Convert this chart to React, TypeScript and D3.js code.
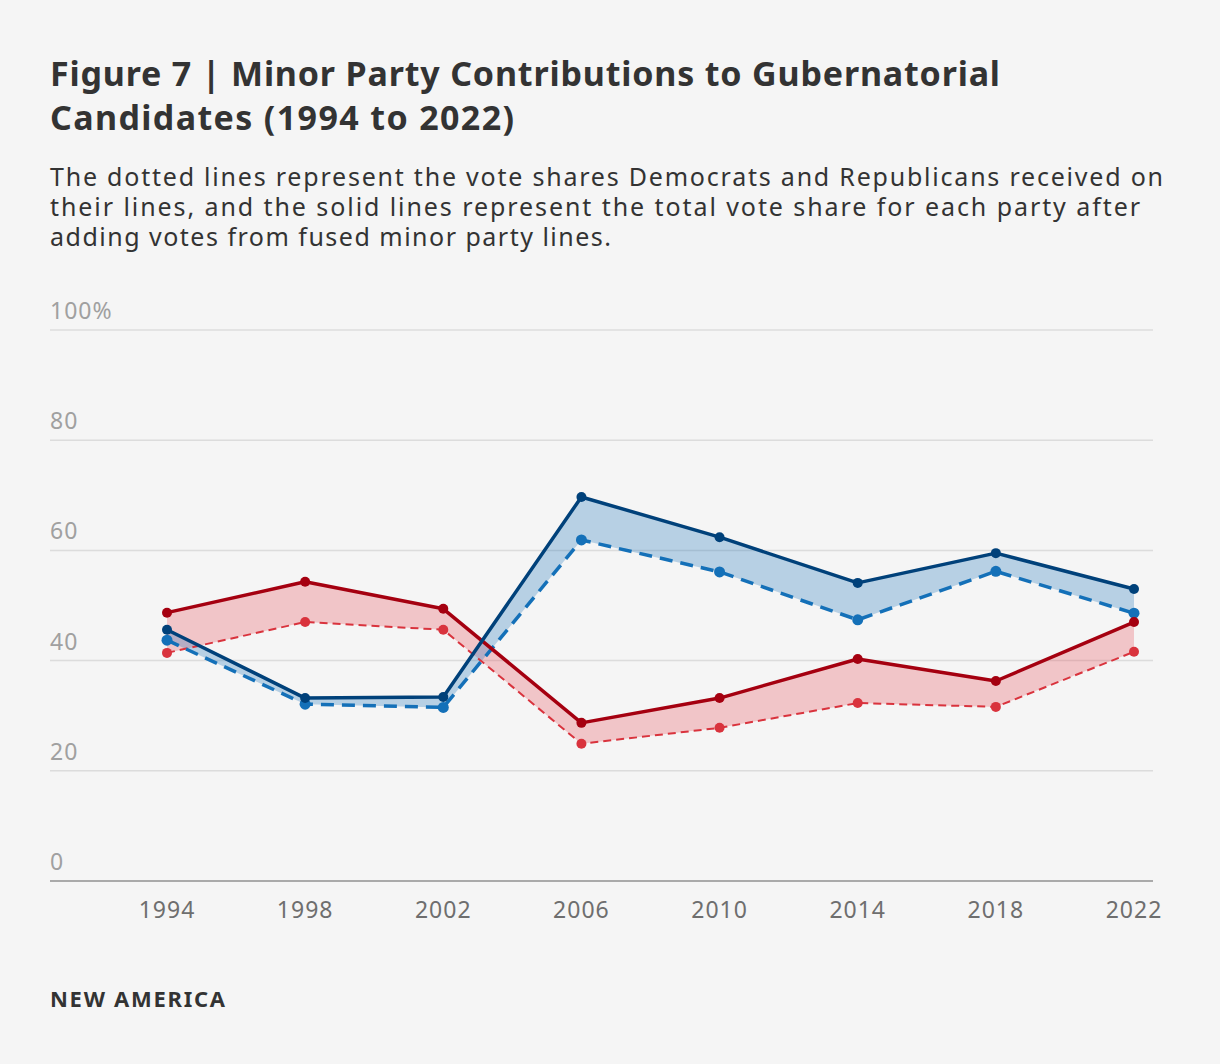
import React from "react";
import * as d3 from "d3";

// election years on the x axis
const years = [1994, 1998, 2002, 2006, 2010, 2014, 2018, 2022];

// vote share on own party line (dashed) and total with fused minor lines (solid)
const demOwn = [43.7, 32.1, 31.5, 61.9, 56.1, 47.4, 56.2, 48.6];
const demTotal = [45.6, 33.2, 33.4, 69.7, 62.4, 54.1, 59.5, 53.0];
const repOwn = [41.4, 47.0, 45.6, 24.9, 27.8, 32.3, 31.6, 41.6];
const repTotal = [48.7, 54.3, 49.4, 28.7, 33.2, 40.3, 36.3, 47.0];

const yTicks = [0, 20, 40, 60, 80, 100];

const W = 1220;
const H = 1064;
const left = 50;
const right = 1153;

const x = d3.scaleLinear().domain([1994, 2022]).range([167, 1134]);
const y = d3.scaleLinear().domain([0, 100]).range([881, 330]);

const font = "'Noto Sans', 'DejaVu Sans', sans-serif";

type Pt = { yr: number; lo: number; hi: number };

const pts = (lo: number[], hi: number[]): Pt[] =>
  years.map((yr, i) => ({ yr, lo: lo[i], hi: hi[i] }));

const band = d3
  .area<Pt>()
  .x((d) => x(d.yr))
  .y0((d) => y(d.lo))
  .y1((d) => y(d.hi));

const line = d3
  .line<number>()
  .x((_, i) => x(years[i]))
  .y((d) => y(d));

const Series = ({
  vals,
  color,
  width,
  dash,
  r,
}: {
  vals: number[];
  color: string;
  width: number;
  dash?: string;
  r: number;
}) => (
  <g>
    <path d={line(vals) || ""} fill="none" stroke={color} strokeWidth={width} strokeDasharray={dash} strokeLinejoin="round" />
    {vals.map((v, i) => (
      <circle key={i} cx={x(years[i])} cy={y(v)} r={r} fill={color} />
    ))}
  </g>
);

export default function App() {
  return (
    <svg width={W} height={H} style={{ position: "absolute", left: 0, top: 0, background: "#f5f5f5" }}>
      <rect width={W} height={H} fill="#f5f5f5" />
      <g fontFamily={font} fill="#333">
        <text x={50} y={86} fontSize={34} fontWeight={700} textLength={950} lengthAdjust="spacing">
          Figure 7 | Minor Party Contributions to Gubernatorial
        </text>
        <text x={50} y={130} fontSize={34} fontWeight={700} textLength={464} lengthAdjust="spacing">
          Candidates (1994 to 2022)
        </text>
        <g fontSize={25} fill="#333">
          <text x={50} y={186} textLength={1113} lengthAdjust="spacing">
            The dotted lines represent the vote shares Democrats and Republicans received on
          </text>
          <text x={50} y={216} textLength={1090} lengthAdjust="spacing">
            their lines, and the solid lines represent the total vote share for each party after
          </text>
          <text x={50} y={246} textLength={561} lengthAdjust="spacing">
            adding votes from fused minor party lines.
          </text>
        </g>
      </g>

      {yTicks.map((t) => (
        <g key={t}>
          <line x1={left} x2={right} y1={y(t)} y2={y(t)} stroke={t === 0 ? "#aaa" : "#dcdcdc"} strokeWidth={t === 0 ? 2 : 1.5} />
          <text x={left} y={y(t) - 11} fontFamily={font} fontSize={23} fill="#a0a0a0" letterSpacing={1}>
            {t === 100 ? "100%" : t}
          </text>
        </g>
      ))}

      {years.map((yr) => (
        <text key={yr} x={x(yr)} y={918} textAnchor="middle" fontFamily={font} fontSize={23} fill="#6e6e6e" letterSpacing={1}>
          {yr}
        </text>
      ))}

      <path d={band(pts(repOwn, repTotal)) || ""} fill="rgb(232,60,75)" fillOpacity={0.26} />
      <path d={band(pts(demOwn, demTotal)) || ""} fill="#1470b8" fillOpacity={0.27} />

      <Series vals={repOwn} color="#d9333d" width={2} dash="8 5" r={5} />
      <Series vals={demOwn} color="#1470b8" width={3.5} dash="13 8" r={5.5} />
      <Series vals={repTotal} color="#a50010" width={3.5} r={5} />
      <Series vals={demTotal} color="#00417a" width={3.5} r={5} />

      <text x={50} y={1007} fontFamily={font} fontSize={22} fontWeight={700} fill="#333" textLength={175} lengthAdjust="spacing">
        NEW AMERICA
      </text>
    </svg>
  );
}
